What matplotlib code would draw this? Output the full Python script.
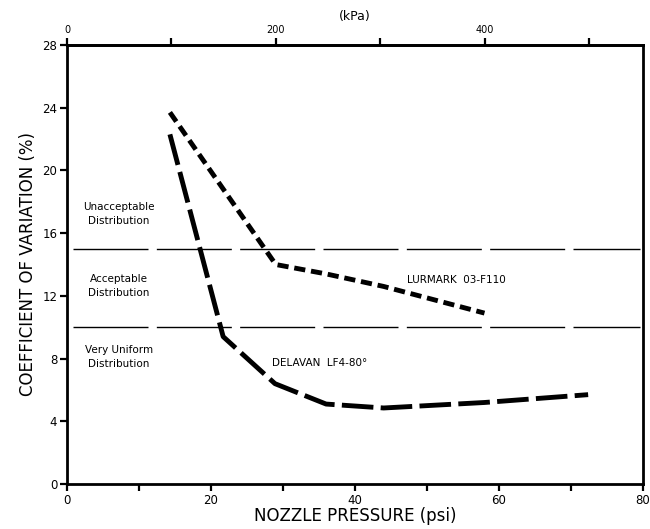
import matplotlib
matplotlib.use("Agg")
import matplotlib.pyplot as plt

# --- data ---
LURMARK_PSI = [14.3, 29.0, 36.0, 44.0, 58.0]
LURMARK_CV = [23.7, 14.0, 13.4, 12.6, 10.9]
DELAVAN_PSI = [14.3, 21.7, 28.9, 36.0, 44.0, 58.0, 72.4]
DELAVAN_CV = [22.3, 9.4, 6.4, 5.1, 4.85, 5.2, 5.7]
LIMITS = [15.0, 10.0]  # class boundaries (CV %)
ZONES = [("Unacceptable\nDistribution", 17.2),
         ("Acceptable\nDistribution", 12.6),
         ("Very Uniform\nDistribution", 8.1)]
KPA_PER_PSI = 6.895

fig = plt.figure(figsize=(6.5, 5.29), dpi=100)
ax = fig.add_axes([0.103, 0.085, 0.886, 0.83])

ax.plot(LURMARK_PSI, LURMARK_CV, color="black", lw=3.5,
        dashes=(2.3, 1.2), solid_capstyle="butt")
ax.plot(DELAVAN_PSI, DELAVAN_CV, color="black", lw=3.5,
        dashes=(6.5, 1.5), solid_capstyle="butt")
for y in LIMITS:
    ax.plot([0.8, 79.6], [y, y], color="black", lw=1.0, dashes=(54, 6))

for txt, y in ZONES:
    ax.text(7.2, y, txt, ha="center", va="center", fontsize=7.5, linespacing=1.5)
ax.text(47.2, 13.0, "LURMARK  03-F110", fontsize=7.5, va="center")
ax.text(28.5, 7.7, "DELAVAN  LF4-80°", fontsize=7.5, va="center")

ax.set_xlim(0, 80)
ax.set_ylim(0, 28)
ax.set_xticks(range(0, 81, 10))
ax.set_xticklabels([str(v) if v % 20 == 0 else "" for v in range(0, 81, 10)])
ax.set_yticks(range(0, 29, 4))
ax.tick_params(direction="out", width=1.6, length=5, labelsize=8.5, pad=2)
ax.tick_params(axis="y", right=False)
ax.set_xlabel("NOZZLE PRESSURE (psi)", fontsize=12, labelpad=0)
ax.set_ylabel("COEFFICIENT OF VARIATION (%)", fontsize=12, labelpad=4)
for s in ax.spines.values():
    s.set_linewidth(2.0)

top = ax.secondary_xaxis("top", functions=(lambda p: p * KPA_PER_PSI,
                                           lambda k: k / KPA_PER_PSI))
top.set_xticks(range(0, 501, 100))
top.set_xticklabels([str(v) if v % 200 == 0 else "" for v in range(0, 501, 100)])
top.tick_params(direction="out", width=1.6, length=5, labelsize=7, pad=2)
top.set_xlabel("(kPa)", fontsize=9, labelpad=4)
top.spines["top"].set_linewidth(2.0)

fig.savefig("out.png", dpi=100)
